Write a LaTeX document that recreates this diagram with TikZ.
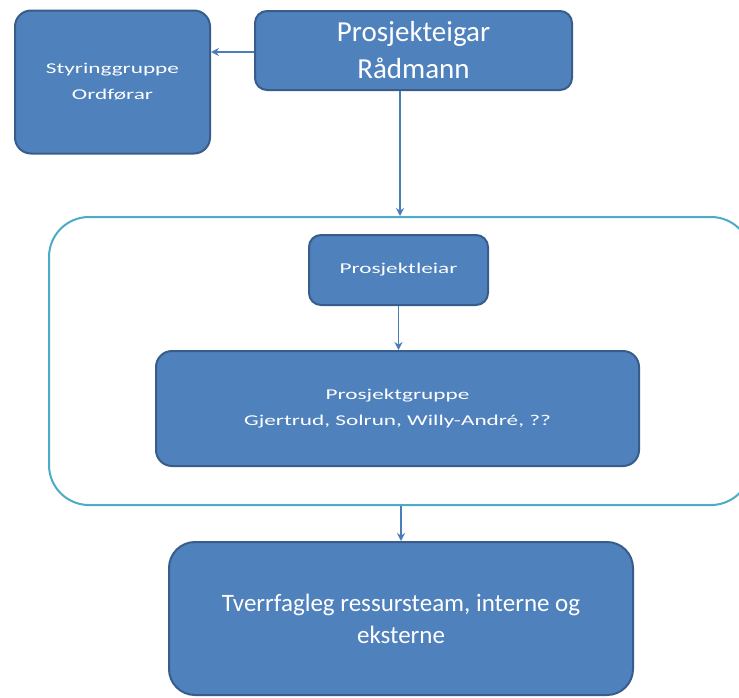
\documentclass[tikz,border=0pt]{standalone}
\usepackage{fontspec}
\setmainfont{Carlito}
\newfontfamily\widefont[FakeStretch=1.55]{Carlito}
\usetikzlibrary{arrows.meta}
\definecolor{boxfill}{HTML}{4F81BD}
\definecolor{boxline}{HTML}{385D8A}
\definecolor{contline}{HTML}{4BACC6}
\definecolor{arrowcol}{HTML}{4A7EBB}
\begin{document}
\begin{tikzpicture}[x=1pt,y=-1pt,
  orgbox/.style={draw=boxline, fill=boxfill, line width=2pt, text=white,
    align=center, inner sep=0pt, rectangle},
  bigtext/.style={font=\fontsize{29}{37}\selectfont},
  midtext/.style={font=\fontsize{25}{32}\selectfont},
  smalltext/.style={font=\widefont\fontsize{15}{26}\selectfont},
  conn/.style={draw=arrowcol, line width=1.6pt, -{Stealth[length=8pt,width=8pt]}}
]
\clip (0,0) rectangle (739,697);
\fill[white] (0,0) rectangle (739,697);
% container
\node[draw=contline, line width=2pt, rectangle, rounded corners=40pt,
  minimum width=702pt, minimum height=288pt, inner sep=0pt] (cont) at (400,361) {};
% boxes
\node[orgbox, rounded corners=16pt, minimum width=195pt, minimum height=143pt, smalltext]
  (sty) at (112.5,82) {Styringgruppe\\Ordførar};
\node[orgbox, rounded corners=12pt, minimum width=317pt, minimum height=79pt, bigtext]
  (eig) at (413.5,50.5) {Prosjekteigar\\Rådmann};
\node[orgbox, rounded corners=12pt, minimum width=179pt, minimum height=70pt, smalltext]
  (leiar) at (398.5,270) {Prosjektleiar};
\node[orgbox, rounded corners=16pt, minimum width=483pt, minimum height=115pt, smalltext]
  (gruppe) at (397.5,408.5) {Prosjektgruppe\\Gjertrud, Solrun, Willy-André, ??};
\node[orgbox, rounded corners=26pt, minimum width=464pt, minimum height=153pt, midtext]
  (team) at (401,618.5) {Tverrfagleg ressursteam, interne og\\eksterne};
% connectors
\draw[conn] (eig.west |- 0,52) -- (sty.east |- 0,52);
\draw[conn] (cont.north |- eig.south) -- (cont.north);
\draw[conn] (leiar.south) -- (leiar.south |- gruppe.north);
\draw[conn] (team.north |- cont.south) -- (team.north);
\end{tikzpicture}
\end{document}
